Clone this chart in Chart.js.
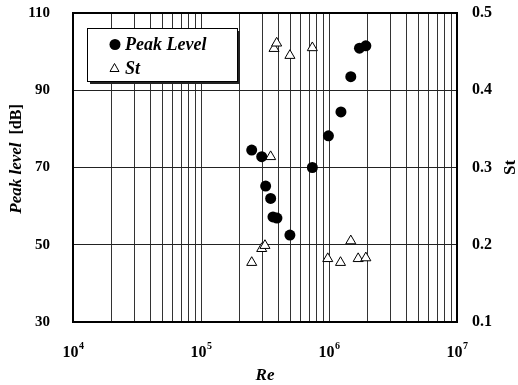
<!DOCTYPE html>
<html>
<head>
<meta charset="utf-8">
<script src="https://cdn.jsdelivr.net/npm/chart.js@4/dist/chart.umd.min.js"></script>
<style>
  html, body { margin: 0; padding: 0; background: #fff; }
  #wrap { width: 518px; height: 385px; }
</style>
</head>
<body>
<div id="wrap"><canvas id="chart" width="518" height="385"></canvas></div>
<script>
// Peak level vs Reynolds number
const reynolds = [2.49e5, 2.98e5, 3.2e5, 3.5e5, 3.65e5, 3.92e5, 4.95e5, 7.41e5, 9.9e5, 1.24e6, 1.48e6, 1.73e6, 1.94e6];
const peakLevel = [74.5, 72.8, 65.2, 62.0, 57.2, 56.9, 52.5, 70.0, 78.2, 84.4, 93.5, 100.9, 101.5];

// Strouhal number vs Reynolds number
const stReynolds = [2.49e5, 2.98e5, 3.16e5, 3.5e5, 3.72e5, 3.9e5, 4.95e5, 7.41e5, 9.78e5, 1.23e6, 1.48e6, 1.69e6, 1.94e6];
const strouhal = [0.177, 0.195, 0.199, 0.314, 0.454, 0.461, 0.445, 0.455, 0.182, 0.177, 0.205, 0.182, 0.183];

const reTicks = [1e4, 1e5, 1e6, 1e7];
const reExponents = ['4', '5', '6', '7'];
const peakTicks = [30, 50, 70, 90, 110];
const stTicks = [0.1, 0.2, 0.3, 0.4, 0.5];

const SERIF = '"Liberation Serif", "Times New Roman", serif';

// every 1..9 x 10^n between the axis limits, for the log grid
function logGridValues(min, max) {
  const out = [];
  for (let e = Math.log10(min); e < Math.log10(max); e++) {
    for (let m = 1; m <= 9; m++) out.push(m * Math.pow(10, e));
  }
  out.push(max);
  return out;
}

function fixVertical(width) {
  return (scale) => {
    scale.width = width;
    scale.paddingTop = 0;
    scale.paddingBottom = 0;
  };
}

const decorPlugin = {
  id: 'decor',
  afterDraw(chart) {
    const ctx = chart.ctx;
    const area = chart.chartArea;
    const xScale = chart.scales.x;
    ctx.save();

    // plot frame
    ctx.strokeStyle = '#000';
    ctx.lineWidth = 2;
    ctx.strokeRect(area.left, area.top, area.right - area.left, area.bottom - area.top);

    // x tick labels as 10 with a raised exponent
    ctx.fillStyle = '#000';
    ctx.textBaseline = 'alphabetic';
    ctx.textAlign = 'left';
    reTicks.forEach((v, i) => {
      const px = xScale.getPixelForValue(v);
      ctx.font = 'bold 16px ' + SERIF;
      const wBase = ctx.measureText('10').width;
      ctx.font = 'bold 10px ' + SERIF;
      const wExp = ctx.measureText(reExponents[i]).width;
      const x0 = px - (wBase + wExp) / 2;
      ctx.font = 'bold 16px ' + SERIF;
      ctx.fillText('10', x0, 357);
      ctx.font = 'bold 10px ' + SERIF;
      ctx.fillText(reExponents[i], x0 + wBase + 0.5, 349);
    });

    // axis titles
    ctx.textAlign = 'center';
    ctx.textBaseline = 'middle';
    ctx.font = 'bold italic 17px ' + SERIF;
    ctx.fillText('Re', (area.left + area.right) / 2, 376);

    ctx.save();
    ctx.translate(17, 159);
    ctx.rotate(-Math.PI / 2);
    ctx.textAlign = 'left';
    ctx.font = 'bold italic 17px ' + SERIF;
    const part1 = 'Peak level';
    const w1 = ctx.measureText(part1).width;
    ctx.font = 'bold 16px ' + SERIF;
    const part2 = '[dB]';
    const w2 = ctx.measureText(part2).width;
    const gap = 8;
    const start = -(w1 + gap + w2) / 2;
    ctx.font = 'bold italic 17px ' + SERIF;
    ctx.fillText(part1, start, 0);
    ctx.font = 'bold 16px ' + SERIF;
    ctx.fillText(part2, start + w1 + gap, 0);
    ctx.restore();

    ctx.save();
    ctx.translate(511, (area.top + area.bottom) / 2);
    ctx.rotate(-Math.PI / 2);
    ctx.font = 'bold 17px ' + SERIF;
    ctx.fillText('St', 0, 0);
    ctx.restore();

    // legend box with drop shadow
    const lx = 87, ly = 28, lw = 150, lh = 53;
    ctx.fillStyle = '#222';
    ctx.fillRect(lx + 3, ly + 3, lw, lh);
    ctx.fillStyle = '#fff';
    ctx.fillRect(lx, ly, lw, lh);
    ctx.strokeStyle = '#000';
    ctx.lineWidth = 1;
    ctx.strokeRect(lx + 0.5, ly + 0.5, lw, lh);

    ctx.fillStyle = '#000';
    ctx.beginPath();
    ctx.arc(115, 44.5, 5.5, 0, Math.PI * 2);
    ctx.fill();

    ctx.beginPath();
    ctx.moveTo(114.5, 63.5);
    ctx.lineTo(119, 71.5);
    ctx.lineTo(110, 71.5);
    ctx.closePath();
    ctx.stroke();

    ctx.textAlign = 'left';
    ctx.font = 'bold italic 18px ' + SERIF;
    ctx.fillText('Peak Level', 125, 45);
    ctx.fillText('St', 125, 69);

    ctx.restore();
  }
};

const peakPoints = reynolds.map((r, i) => ({ x: r, y: peakLevel[i] }));
const stPoints = stReynolds.map((r, i) => ({ x: r, y: strouhal[i] }));

new Chart(document.getElementById('chart'), {
  type: 'scatter',
  data: {
    datasets: [
      {
        label: 'Peak Level',
        data: peakPoints,
        yAxisID: 'y',
        pointStyle: 'circle',
        pointRadius: 5.5,
        backgroundColor: '#000',
        borderColor: '#000',
        borderWidth: 0
      },
      {
        label: 'St',
        data: stPoints,
        yAxisID: 'y2',
        pointStyle: 'triangle',
        pointRadius: 5.8,
        backgroundColor: '#fff',
        borderColor: '#000',
        borderWidth: 1
      }
    ]
  },
  options: {
    responsive: false,
    devicePixelRatio: 1,
    animation: false,
    layout: { padding: { top: 13, left: 0, right: 0, bottom: 0 } },
    plugins: {
      legend: { display: false },
      tooltip: { enabled: false }
    },
    scales: {
      x: {
        type: 'logarithmic',
        position: 'bottom',
        min: 1e4,
        max: 1e7,
        afterBuildTicks: (scale) => {
          scale.ticks = logGridValues(1e4, 1e7).map(v => ({ value: v }));
        },
        afterFit: (scale) => {
          scale.height = 63;
          scale.paddingLeft = 0;
          scale.paddingRight = 0;
        },
        ticks: { display: false, autoSkip: false },
        grid: { color: '#333', lineWidth: 1, drawTicks: false },
        border: { display: false }
      },
      y: {
        type: 'linear',
        position: 'left',
        min: 30,
        max: 110,
        afterBuildTicks: (scale) => {
          scale.ticks = peakTicks.map(v => ({ value: v }));
        },
        afterFit: fixVertical(73),
        ticks: {
          color: '#000',
          padding: 23,
          font: { family: SERIF, size: 15, weight: 'bold' }
        },
        grid: { color: '#222', lineWidth: 1, drawTicks: false },
        border: { display: false }
      },
      y2: {
        type: 'linear',
        position: 'right',
        min: 0.1,
        max: 0.5,
        afterBuildTicks: (scale) => {
          scale.ticks = stTicks.map(v => ({ value: v }));
        },
        afterFit: fixVertical(61),
        ticks: {
          color: '#000',
          padding: 15,
          font: { family: SERIF, size: 16, weight: 'bold' },
          callback: (v) => Number(v).toFixed(1)
        },
        grid: { drawOnChartArea: false, drawTicks: false },
        border: { display: false }
      }
    }
  },
  plugins: [decorPlugin]
});
</script>
</body>
</html>
